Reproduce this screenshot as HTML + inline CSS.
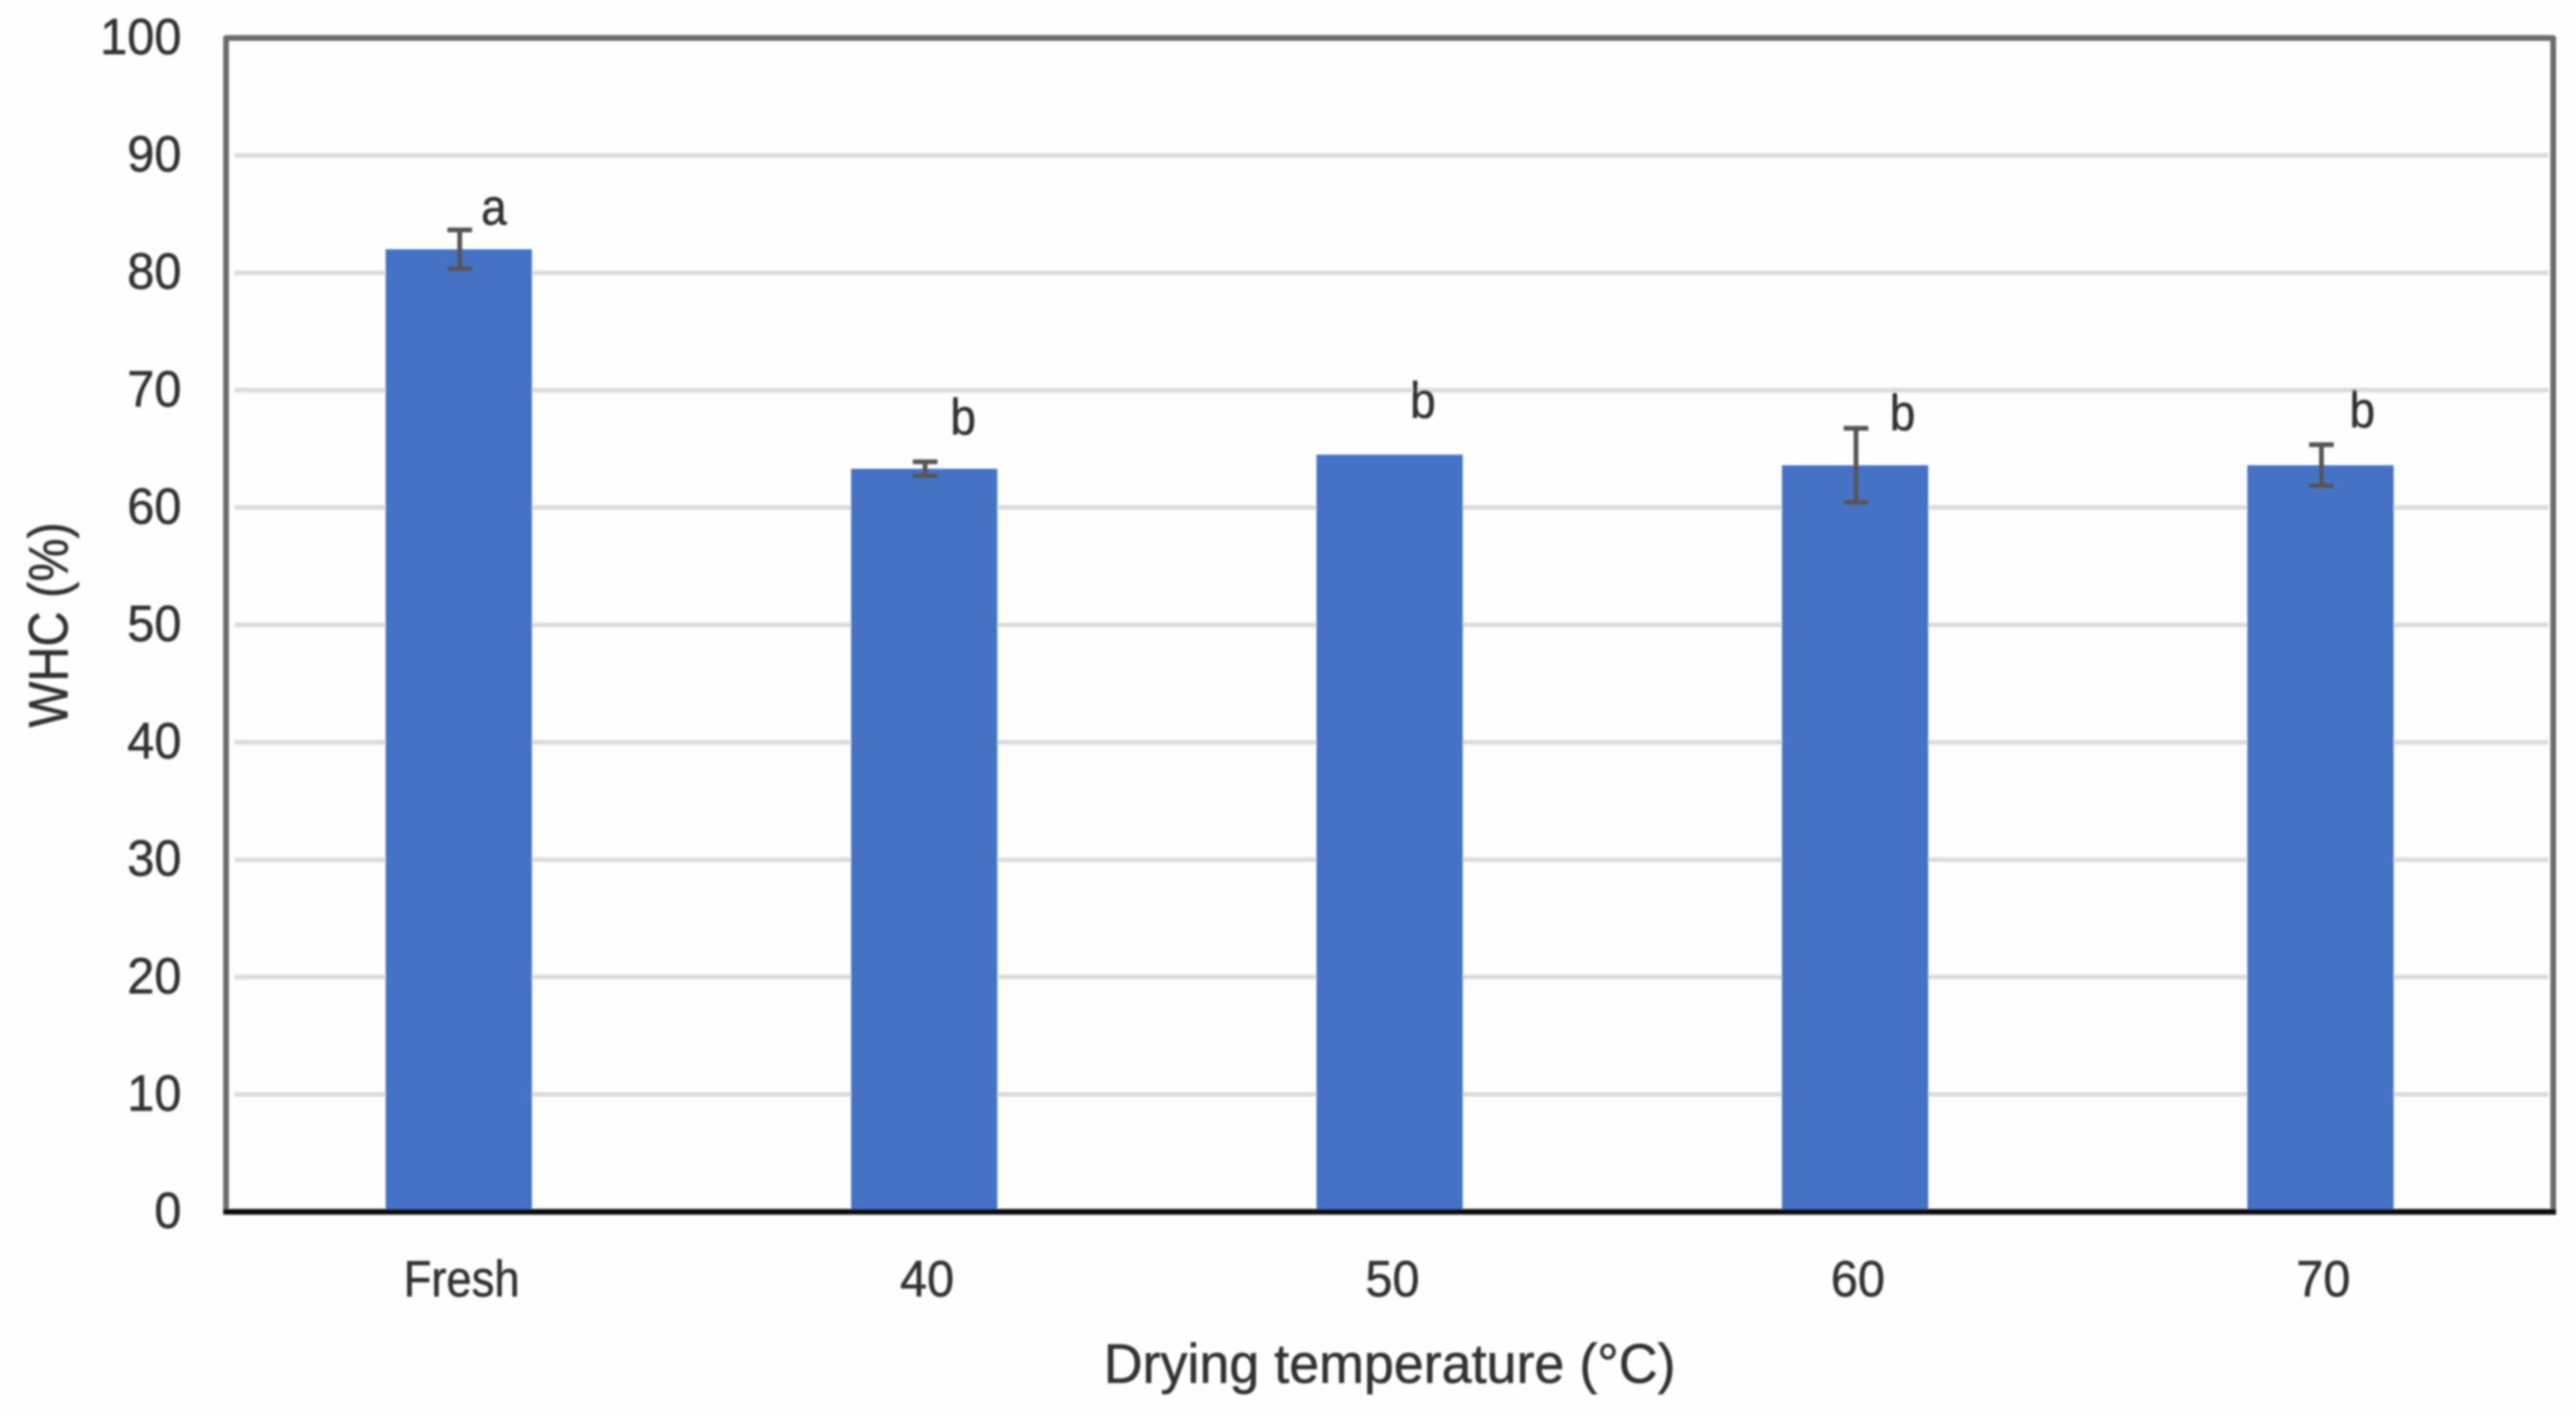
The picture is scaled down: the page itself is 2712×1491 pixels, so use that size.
<!DOCTYPE html>
<html lang="en">
<head>
<meta charset="utf-8">
<title>WHC by drying temperature</title>
<style>
html,body{margin:0;padding:0;background:#fefefe;}
#chart{display:block;width:2712px;height:1491px;}
text{font-family:"Liberation Sans",sans-serif;fill:#333333;stroke:#333333;stroke-width:0.6;}
</style>
</head>
<body>
<svg id="chart" xmlns="http://www.w3.org/2000/svg" width="2712" height="1491" viewBox="0 0 2712 1491">
<defs><filter id="soft" x="-2%" y="-2%" width="104%" height="104%"><feGaussianBlur stdDeviation="1"/></filter></defs>
<rect x="0" y="0" width="2712" height="1491" fill="#fefefe"/>
<g id="root" filter="url(#soft)"></g>
</svg>
<script>
const categories = ['Fresh', '40', '50', '60', '70'];
const whcValues = [82.0, 63.3, 64.5, 63.6, 63.6];
const errorValues = [1.65, 0.6, 0, 3.15, 1.75];
const significanceLetters = ['a', 'b', 'b', 'b', 'b'];
const yTickLabels = [0, 10, 20, 30, 40, 50, 60, 70, 80, 90, 100];

const plotLeft = 238, plotRight = 2688, plotTop = 40, plotBottom = 1276;
const yMax = 100, barWidth = 154;
const letterDx = [37, 41, 35, 50, 44];
const letterDy = [-26, -36, -39, -37, -40];
const NS = 'http://www.w3.org/2000/svg';
const root = document.getElementById('root');

function yScale(v) { return plotBottom - (v / yMax) * (plotBottom - plotTop); }
function xScale(i) { return plotLeft + (plotRight - plotLeft) * (i + 0.5) / categories.length; }
function make(tag, attrs, parent) {
  const el = document.createElementNS(NS, tag);
  for (const k in attrs) el.setAttribute(k, attrs[k]);
  (parent || root).appendChild(el);
  return el;
}

yTickLabels.forEach(function (t) {
  if (t !== 0 && t !== yMax) {
    const grid = make('line', { x1: plotLeft + 9, x2: plotRight - 5, y1: yScale(t), y2: yScale(t), stroke: '#dcdcdc', 'stroke-width': 5 });
    
    
  }
  const label = make('text', { x: 191, y: yScale(t) + 17, 'text-anchor': 'end', 'font-size': 54, textLength: String(t).length * 28.5, lengthAdjust: 'spacingAndGlyphs' });
  label.textContent = t;
  
  
});

categories.forEach(function (c, i) {
  const cx = xScale(i);
  const bar = make('rect', { x: cx - barWidth / 2, y: yScale(whcValues[i]), width: barWidth, height: plotBottom - yScale(whcValues[i]), fill: '#4472c4' });
  
  

  if (errorValues[i] > 0) {
    const hi = yScale(whcValues[i] + errorValues[i]);
    const lo = yScale(whcValues[i] - errorValues[i]);
    const ex = cx + 1;
    const eb = make('path', { d: 'M' + (ex - 13) + ' ' + hi + 'H' + (ex + 13) + 'M' + ex + ' ' + hi + 'V' + lo + 'M' + (ex - 13) + ' ' + lo + 'H' + (ex + 13), stroke: '#555555', 'stroke-width': 5, fill: 'none' });
    
    
  }

  const letter = make('text', { x: cx + letterDx[i], y: yScale(whcValues[i]) + letterDy[i], 'text-anchor': 'middle', 'font-size': 54, textLength: 27, lengthAdjust: 'spacingAndGlyphs' });
  letter.textContent = significanceLetters[i];
  
  

  const tick = make('text', { x: cx + 3, y: 1365, 'text-anchor': 'middle', 'font-size': 54, textLength: c === 'Fresh' ? 122 : 57, lengthAdjust: 'spacingAndGlyphs' });
  tick.textContent = c;
  
  
});

const frame = make('path', { d: 'M' + plotLeft + ' ' + plotBottom + 'V' + plotTop + 'H' + plotRight + 'V' + plotBottom, stroke: '#6a6a6a', 'stroke-width': 6, fill: 'none', 'stroke-linejoin': 'round' });



const xAxis = make('line', { x1: plotLeft - 3, x2: plotRight + 3, y1: plotBottom, y2: plotBottom, stroke: '#111111', 'stroke-width': 6 });



const xTitle = make('text', { x: 1463, y: 1456, 'text-anchor': 'middle', 'font-size': 58, textLength: 602, lengthAdjust: 'spacingAndGlyphs' });
xTitle.textContent = 'Drying temperature (°C)';



const yTitle = make('text', { x: 0, y: 0, 'text-anchor': 'middle', 'font-size': 58, textLength: 216, lengthAdjust: 'spacingAndGlyphs', transform: 'translate(71 658) rotate(-90)' });
yTitle.textContent = 'WHC (%)';


</script>
</body>
</html>
